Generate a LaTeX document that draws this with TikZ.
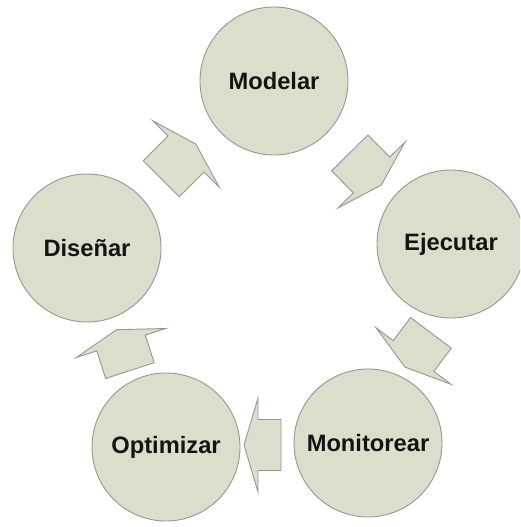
\documentclass[tikz,border=0pt]{standalone}
\usepackage{fontspec}
\setmainfont{Liberation Sans}
\definecolor{phasefill}{RGB}{220,222,204}
\definecolor{phaseline}{RGB}{150,150,148}
\definecolor{phasetext}{RGB}{20,20,20}
\tikzset{
  phase/.style={circle, draw=phaseline, line width=0.9pt, fill=phasefill,
    minimum size=148pt, inner sep=0pt, text=phasetext,
    font=\fontsize{23.7}{28}\selectfont\bfseries},
  cycarrow/.style={draw=phaseline, line width=0.9pt, fill=phasefill, line join=miter}
}
% block arrow: origin at the middle of the head's base, pointing along local x
% #1 = base midpoint, #2 = angle, #3 = body length
\newcommand\cyclearrow[3]{%
  \begin{scope}[shift={#1}, rotate=#2]
    \draw[cycarrow] (-#3,25.5) -- (0,25.5) -- (0,47) -- (14,0) -- (0,-47)
      -- (0,-25.5) -- (-#3,-25.5) -- cycle;
  \end{scope}}
\begin{document}
\begin{tikzpicture}[x=1pt, y=-1pt]
  \useasboundingbox (0,0) rectangle (520,527);
  \begin{scope}
    \clip (0,0) rectangle (520,527);
    \node[phase] (modelar)    at (274,81)  {Modelar};
    \node[phase] (ejecutar)   at (451,244) {Ejecutar};
    \node[phase] (monitorear) at (368,443) {Monitorear};
    \node[phase] (optimizar)  at (166,447) {Optimizar};
    \node[phase] (disenar)    at (87,248)  {Diseñar};

    % arrows between consecutive phases
    \cyclearrow{(186,154)}{45}{35}
    \cyclearrow{(371.5,175)}{-45.5}{31}
    \cyclearrow{(413.5,356)}{233}{29}
    \cyclearrow{(258,445)}{180}{23}
    \cyclearrow{(121,343)}{108}{29}
  \end{scope}
\end{tikzpicture}
\end{document}
